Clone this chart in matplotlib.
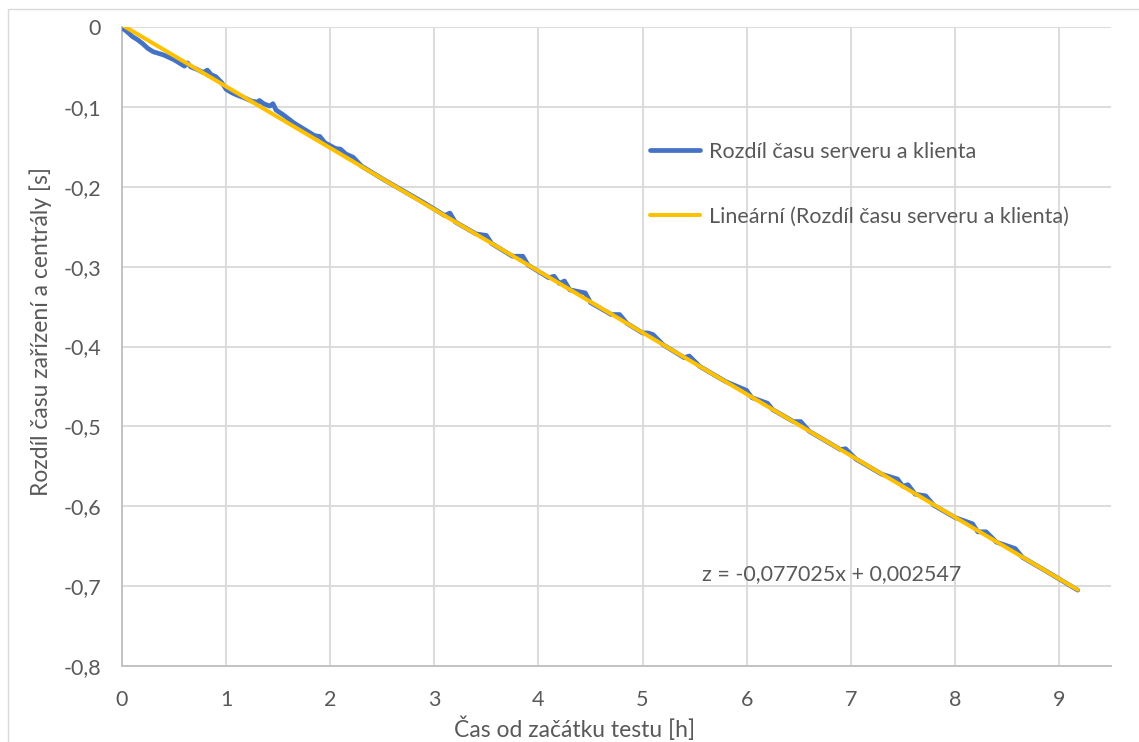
#!/usr/bin/env python3
# -*- coding: utf-8 -*-

import numpy as np
import matplotlib
matplotlib.use("Agg")
import matplotlib.pyplot as plt
from matplotlib.ticker import FuncFormatter
from matplotlib.patches import Rectangle

# measured difference (hours vs seconds)
hours = [0.00, 0.05, 0.10, 0.15, 0.20, 0.25, 0.30, 0.35, 0.40, 0.45,
         0.50, 0.55, 0.60, 0.63, 0.66, 0.72, 0.78, 0.82, 0.86, 0.90,
         0.96, 1.00, 1.05, 1.10, 1.18, 1.25, 1.30, 1.32, 1.36, 1.42,
         1.45, 1.48, 1.55, 1.65, 1.75, 1.85, 1.90, 1.95, 2.05, 2.10,
         2.15, 2.22, 2.30, 2.50, 2.70, 2.90, 3.10, 3.15, 3.20, 3.40,
         3.50, 3.55, 3.75, 3.85, 3.90, 4.10, 4.15, 4.20, 4.25, 4.30,
         4.45, 4.50, 4.70, 4.78, 4.85, 5.00, 5.05, 5.10, 5.20, 5.40,
         5.45, 5.55, 5.80, 6.00, 6.05, 6.20, 6.25, 6.45, 6.52, 6.60,
         6.90, 6.95, 7.05, 7.30, 7.45, 7.50, 7.55, 7.62, 7.72, 7.80,
         8.00, 8.17, 8.22, 8.30, 8.40, 8.58, 8.65, 8.90, 9.18]
diff_s = [-0.001, -0.006, -0.012, -0.016, -0.021, -0.027, -0.031, -0.033, -0.035, -0.038,
          -0.041, -0.045, -0.049, -0.045, -0.050, -0.053, -0.057, -0.054, -0.060, -0.062,
          -0.070, -0.078, -0.082, -0.085, -0.089, -0.093, -0.094, -0.092, -0.096, -0.099,
          -0.096, -0.104, -0.110, -0.120, -0.128, -0.136, -0.137, -0.145, -0.152, -0.153,
          -0.159, -0.163, -0.174, -0.190, -0.205, -0.220, -0.236, -0.233, -0.244, -0.259,
          -0.261, -0.271, -0.287, -0.287, -0.298, -0.314, -0.312, -0.321, -0.318, -0.329,
          -0.333, -0.345, -0.360, -0.360, -0.371, -0.383, -0.383, -0.385, -0.398, -0.414,
          -0.412, -0.425, -0.444, -0.455, -0.464, -0.471, -0.479, -0.494, -0.494, -0.506,
          -0.529, -0.528, -0.541, -0.560, -0.566, -0.575, -0.573, -0.585, -0.587, -0.599,
          -0.614, -0.622, -0.632, -0.632, -0.645, -0.653, -0.664, -0.683, -0.705]

# trendline coefficients as printed on the chart
slope = -0.077025
intercept = 0.002547

plt.rcParams['font.family'] = ['Lato', 'DejaVu Sans']
txt_col = '#595959'
fs = 15.5

fig = plt.figure(figsize=(11.39, 7.42), dpi=100)
ax = fig.add_axes([122/1139, 1 - 666/742, (1111 - 122)/1139, (666 - 27)/742])

# chart area border
fig.patches.append(Rectangle((8/1139, -0.01), 1.02, 1 - 9.5/742 + 0.01,
                             transform=fig.transFigure, fill=False,
                             edgecolor='#D9D9D9', lw=1.0))

ax.plot(hours, diff_s, color='#4472C4', lw=3.4, label='Rozdíl času serveru a klienta',
        solid_capstyle='round', zorder=3)
tx = np.array([hours[0], hours[-1]])
ax.plot(tx, slope*tx + intercept, color='#FFC000', lw=2.9,
        label='Lineární (Rozdíl času serveru a klienta)', solid_capstyle='round', zorder=4)

ax.set_xlim(0, 9.5)
ax.set_ylim(-0.8, 0)
ax.set_xticks(range(0, 10))
ax.set_yticks(np.arange(-0.8, 0.01, 0.1))

def comma(v, p):
    v = round(v, 2)
    if v == 0:
        return '0'
    return ('%g' % v).replace('.', ',')

ax.xaxis.set_major_formatter(FuncFormatter(comma))
ax.yaxis.set_major_formatter(FuncFormatter(comma))

ax.grid(True, color='#D9D9D9', lw=1.3)
ax.set_axisbelow(True)
for s in ['top', 'right']:
    ax.spines[s].set_visible(False)
for s in ['left', 'bottom']:
    ax.spines[s].set_color('#BFBFBF')
    ax.spines[s].set_linewidth(1.3)
ax.tick_params(length=0, labelsize=fs, colors=txt_col)
ax.tick_params(axis='x', pad=17)
ax.tick_params(axis='y', pad=15)

ax.set_xlabel('Čas od začátku testu [h]', fontsize=16.5, color=txt_col, va='center')
ax.xaxis.set_label_coords(0.4575, -0.0986)
ax.set_ylabel('Rozdíl času zařízení a centrály [s]', fontsize=16.5, color=txt_col, va='center')
ax.yaxis.set_label_coords(-0.082, 0.523)

ax.text(0.7174, 0.144, 'z = -0,077025x + 0,002547', transform=ax.transAxes,
        fontsize=fs, color=txt_col, ha='center', va='center')

leg = ax.legend(loc='upper left', bbox_to_anchor=(0.534, 0.820), frameon=False,
                fontsize=fs, labelspacing=2.08, handlelength=2.3, handletextpad=0.45,
                borderpad=0, borderaxespad=0)
for t in leg.get_texts():
    t.set_color(txt_col)

plt.savefig('out.png', dpi=100)
